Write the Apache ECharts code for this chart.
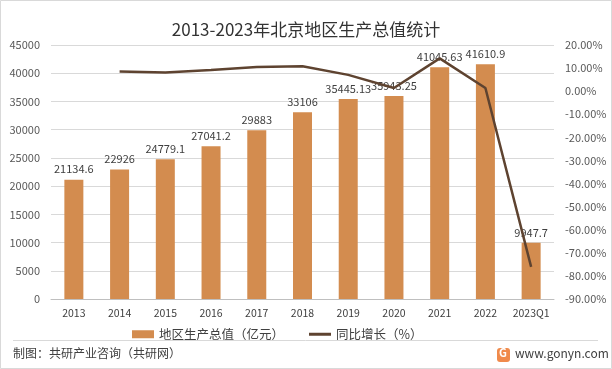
<!DOCTYPE html>
<html><head><meta charset="utf-8">
<script src="https://cdn.jsdelivr.net/npm/echarts@6/dist/echarts.min.js"></script>
<style>html,body{margin:0;padding:0;background:#fff}#c{width:612px;height:369px}</style>
</head><body><div id="c"></div>
<script>
const categories = ['2013','2014','2015','2016','2017','2018','2019','2020','2021','2022','2023Q1'];
const gdpValues = [21134.6, 22926, 24779.1, 27041.2, 29883, 33106, 35445.13, 35943.25, 41045.63, 41610.9, 9947.7];
const growthValues = [null, 8.47, 8.08, 9.13, 10.50, 10.78, 7.07, 1.41, 14.20, 1.38, -76.09];
const leftTicks = {min: 0, max: 45000, interval: 5000};
const rightTicks = {min: -90, max: 20, interval: 10};

const font = '"Noto Sans CJK SC", "Noto Sans", sans-serif';
const chart = echarts.init(document.getElementById('c'));
chart.setOption({
  animation: false,
  backgroundColor: '#fff',
  title: {
    text: '2013-2023年北京地区生产总值统计',
    left: 'center', top: 16,
    textStyle: {fontFamily: font, fontSize: 17, fontWeight: 'normal', color: '#333'}
  },
  grid: {left: 51, right: 58, top: 45, bottom: 70},
  legend: {
    top: 323, left: 127, itemGap: 25, itemWidth: 22, itemHeight: 8,
    textStyle: {fontFamily: font, fontSize: 12.5, color: '#404040'},
    data: [{name: '地区生产总值（亿元）', icon: 'rect'},
           {name: '同比增长（%）', icon: 'path://M0,0 L22,0 L22,3 L0,3 Z'}]
  },
  xAxis: {
    type: 'category', data: categories,
    axisLine: {lineStyle: {color: '#bfbfbf'}},
    axisTick: {show: false},
    axisLabel: {color: '#404040', fontSize: 10.5, fontFamily: font, margin: 9, interval: 0}
  },
  yAxis: [{
    type: 'value', min: leftTicks.min, max: leftTicks.max, interval: leftTicks.interval,
    axisLine: {show: false}, axisTick: {show: false},
    axisLabel: {color: '#595959', fontSize: 11, fontFamily: font, margin: 11, formatter: v => String(v)},
    splitLine: {lineStyle: {color: '#d9d9d9'}}
  }, {
    type: 'value', min: rightTicks.min, max: rightTicks.max, interval: rightTicks.interval,
    axisLine: {show: false}, axisTick: {show: false},
    axisLabel: {color: '#595959', fontSize: 11, fontFamily: font, margin: 11,
      formatter: v => v.toFixed(2) + '%'},
    splitLine: {show: false}
  }],
  series: [{
    name: '地区生产总值（亿元）', type: 'bar', data: gdpValues, barWidth: 19,
    itemStyle: {color: '#d38c4f'},
    label: {show: true, position: 'top', distance: 5, color: '#404040', fontSize: 11, fontFamily: font,
      formatter: p => String(p.value)}
  }, {
    name: '同比增长（%）', type: 'line', yAxisIndex: 1, data: growthValues,
    symbol: 'none', connectNulls: false,
    lineStyle: {color: '#5e4330', width: 2.5},
    itemStyle: {color: '#5e4330'}
  }],
  graphic: [
    {type: 'rect', shape: {x: 0.5, y: 0.5, width: 611, height: 368}, style: {fill: 'none', stroke: '#d9d9d9', lineWidth: 1}},
    {type: 'line', shape: {x1: 13, y1: 340.5, x2: 598, y2: 340.5}, style: {stroke: '#d9d9d9', lineWidth: 1}},
    {type: 'text', left: 13, top: 347, style: {text: '制图：共研产业咨询（共研网）', fill: '#404040', font: '12px ' + font}},
    {type: 'rect', shape: {x: 497, y: 348, width: 13, height: 14, r: 3}, style: {fill: '#f08a4b'}},
    {type: 'text', left: 499, top: 347, style: {text: 'G', fill: '#fff', font: 'bold 11px ' + font}},
    {type: 'text', left: 515, top: 347, style: {text: 'www.gonyn.com', fill: '#404040', font: '12px ' + font}}
  ]
});
</script></body></html>
